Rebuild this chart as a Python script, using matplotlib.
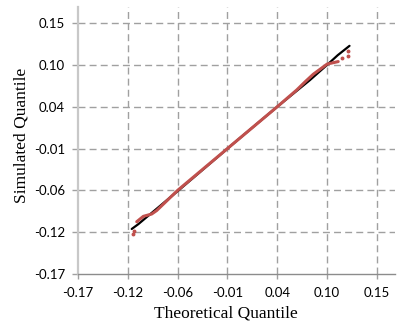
import matplotlib
matplotlib.use("Agg")
import matplotlib.pyplot as plt
import numpy as np

# ---- data ----
tick_labels = ['-0.17', '-0.12', '-0.06', '-0.01', '0.04', '0.10', '0.15']
axis_min = -0.17
axis_step = 0.0537

black_theoretical = [-0.1121, -0.105, -0.095, -0.060, 0.000, 0.045, 0.080, 0.0985, 0.110, 0.1226]
black_simulated   = [-0.1122, -0.106, -0.096, -0.061, 0.000, 0.045, 0.079, 0.0985, 0.111, 0.1229]

red_theoretical = [-0.1067, -0.0996, -0.0906, -0.0852, -0.0626, -0.009, 0.0448, 0.0657, 0.0750, 0.0836, 0.0985, 0.1104]
red_simulated   = [-0.1029, -0.0960, -0.0930, -0.0885, -0.0626, -0.009, 0.0448, 0.0662, 0.0770, 0.0865, 0.0995, 0.1027]

red_tail_theoretical = [-0.1107, -0.1095, 0.1143, 0.1208, 0.1214]
red_tail_simulated   = [-0.1187, -0.1150, 0.1071, 0.1169, 0.1105]

W, H, DPI = 406, 325, 100
fig = plt.figure(figsize=(W / DPI, H / DPI), dpi=DPI)
ax = fig.add_axes([78 / W, (H - 274) / H, (395 - 78) / W, (274 - 7) / H])

ticks = [axis_min + i * axis_step for i in range(len(tick_labels))]
ax.set_xlim(axis_min, axis_min + axis_step * (317 / 49.83))
ax.set_ylim(axis_min, axis_min + axis_step * (267 / 41.83))

grid_color = '#A0A0A0'
for t in ticks[1:]:
    ax.axvline(t, color=grid_color, lw=1.0, ls=(0, (5, 3)), zorder=1)
    ax.axhline(t, color=grid_color, lw=1.0, ls=(0, (5, 3)), zorder=1)

ax.plot(black_theoretical, black_simulated, color='black', lw=1.6, zorder=3,
        solid_capstyle='round')
ax.plot(red_theoretical, red_simulated, color='#C0504D', lw=2.2, zorder=4,
        solid_capstyle='round')
ax.plot(red_tail_theoretical, red_tail_simulated, ls='none', marker='o',
        ms=1.8, color='#C0504D', mec='#C0504D', zorder=4)

ax.set_xticks(ticks)
ax.set_yticks(ticks)
ax.set_xticklabels(tick_labels)
ax.set_yticklabels(tick_labels)

for s in ['top', 'right']:
    ax.spines[s].set_visible(False)
ax.spines['left'].set_color('#C8C8C8')
ax.spines['left'].set_linewidth(1.6)
ax.spines['bottom'].set_color('#8C8C8C')
ax.spines['bottom'].set_linewidth(1.0)

ax.tick_params(axis='x', direction='out', length=3.5, width=1.0, color=grid_color,
               pad=6.0, labelsize=9.5, labelcolor='black')
ax.tick_params(axis='y', direction='out', length=4.5, width=1.0, color=grid_color,
               pad=5.0, labelsize=9.5, labelcolor='black')
for lab in ax.get_xticklabels() + ax.get_yticklabels():
    lab.set_fontfamily(['Lato', 'DejaVu Sans'])

fig.text(226 / W, 1 - 313 / H, 'Theoretical Quantile', ha='center', va='center',
         fontsize=12.5, family=['Liberation Serif', 'DejaVu Serif'])
fig.text(22 / W, 1 - 135 / H, 'Simulated Quantile', ha='center', va='center',
         rotation=90, fontsize=12.5, family=['Liberation Serif', 'DejaVu Serif'])

fig.savefig('out.png', dpi=DPI)
